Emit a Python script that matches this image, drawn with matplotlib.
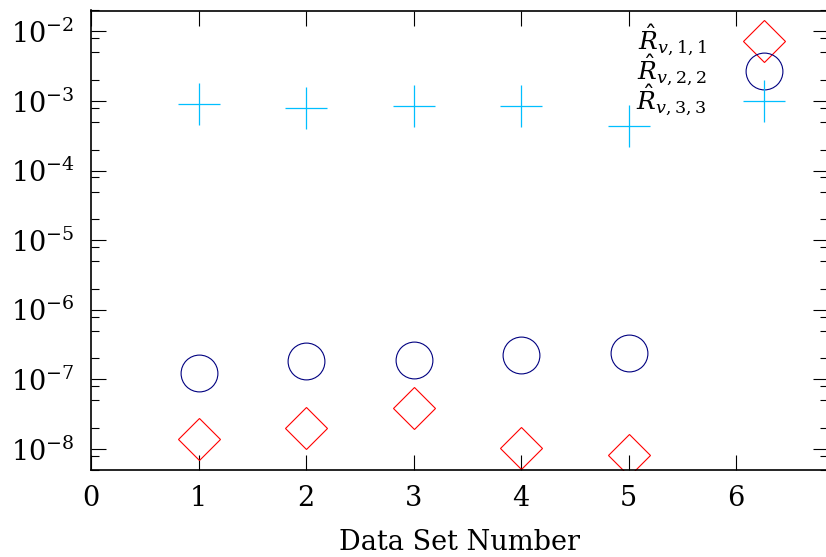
import numpy as np
import matplotlib
matplotlib.use('Agg')
import matplotlib.pyplot as plt
from matplotlib.ticker import LogLocator, NullFormatter

plt.rcParams['font.family'] = 'DejaVu Serif'
plt.rcParams['mathtext.fontset'] = 'dejavuserif'

# values
data_sets = [1, 2, 3, 4, 5]
R11 = [1.38e-8, 1.98e-8, 3.84e-8, 1.05e-8, 8.25e-9]
R22 = [1.22e-7, 1.85e-7, 1.89e-7, 2.26e-7, 2.37e-7]
R33 = [9.05e-4, 7.9e-4, 8.36e-4, 8.55e-4, 4.4e-4]
labels = [r'$\hat{R}_{v,1,1}$', r'$\hat{R}_{v,2,2}$', r'$\hat{R}_{v,3,3}$']

fig = plt.figure(figsize=(8.26, 5.57), dpi=100)
ax = fig.add_axes([91 / 826, 1 - 470 / 557, 1.002 - 91 / 826, (470 - 10.5) / 557])

ax.plot(data_sets, R11, linestyle='none', marker='D', ms=21.5, mfc='none',
        mec='red', mew=0.8, label=labels[0])
ax.plot(data_sets, R22, linestyle='none', marker='o', ms=26.5, mfc='none',
        mec='navy', mew=0.8, label=labels[1])
ax.plot(data_sets, R33, linestyle='none', marker='+', ms=30.5,
        mec='deepskyblue', mew=0.9, label=labels[2])

ax.set_yscale('log')
ax.set_xlim(0, 6.85)
ax.set_ylim(5e-9, 2e-2)
ax.set_xticks(range(0, 7))
ax.yaxis.set_major_locator(LogLocator(base=10, numticks=20))
ax.yaxis.set_minor_locator(LogLocator(base=10, subs=(2, 5, 8), numticks=20))
ax.yaxis.set_minor_formatter(NullFormatter())
ax.tick_params(which='both', direction='in', top=True, right=True, labelsize=19.5)
ax.tick_params(which='major', length=11, width=0.8)
ax.tick_params(which='minor', length=6, width=0.8)
ax.tick_params(axis='x', pad=11)
ax.tick_params(axis='y', pad=12)
for s in ax.spines.values():
    s.set_linewidth(1.2)

ax.set_xlabel('Data Set Number', fontsize=19.5, labelpad=12)
ax.legend(loc='upper right', markerfirst=False, frameon=False, fontsize=18,
          labelspacing=-0.21, handletextpad=1.3, borderaxespad=0.2,
          bbox_to_anchor=(0.968, 1.005))

fig.savefig('out.png', dpi=100)
